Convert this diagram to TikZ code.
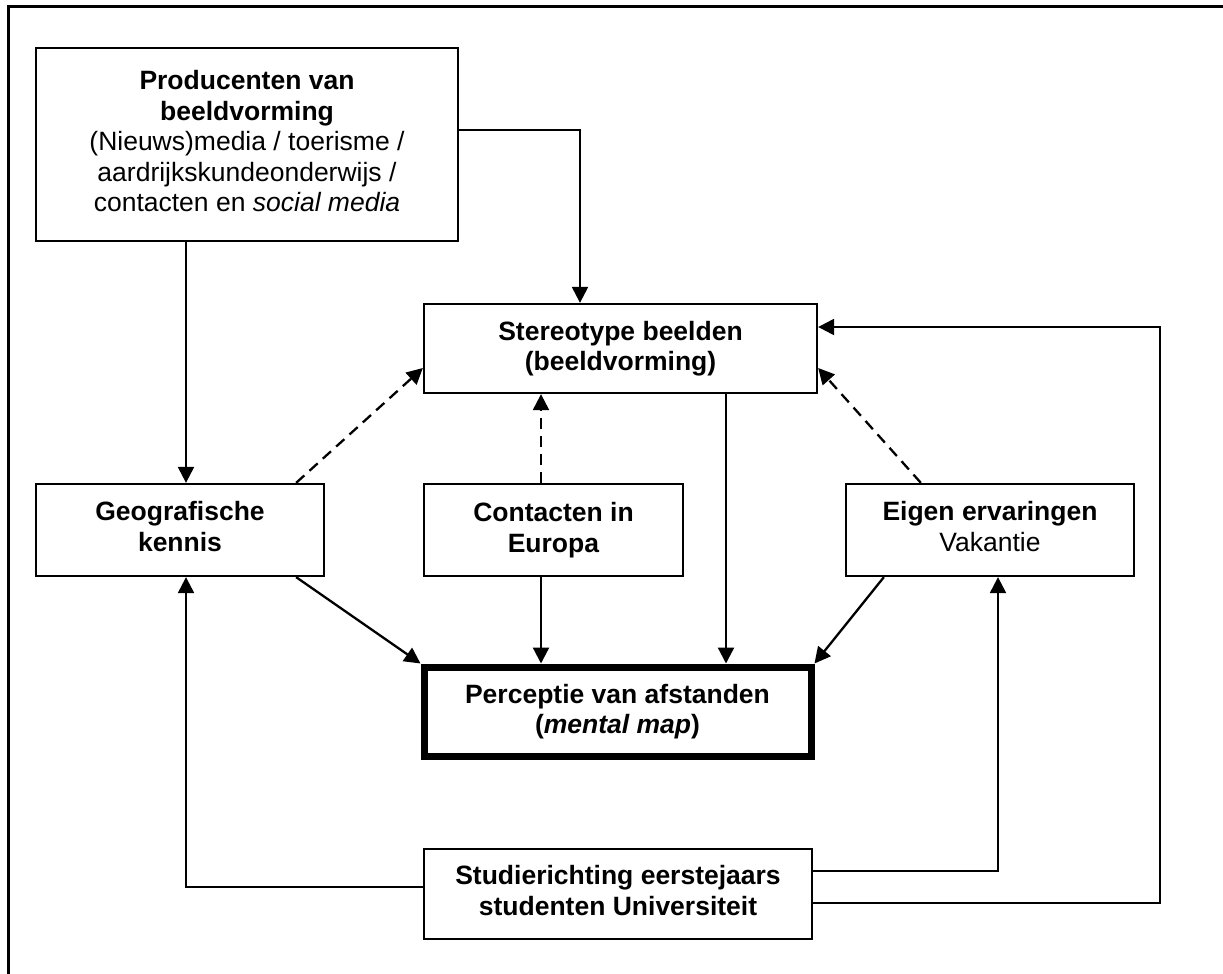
\documentclass[tikz,border=0pt]{standalone}
\usepackage{fontspec}
\setmainfont{Liberation Sans}
\usetikzlibrary{arrows.meta}
\begin{document}
\begin{tikzpicture}[x=1pt,y=-1pt,
  box/.style={draw=black,line width=2.3pt,rectangle,inner sep=0pt,align=center,
    font=\fontsize{26.5}{30.5}\selectfont},
  thickbox/.style={box,line width=7pt},
  arr/.style={line width=2.3pt,-{Triangle[length=16pt,width=16pt]}},
  dashedarr/.style={arr,dash pattern=on 11pt off 7pt}]
\useasboundingbox (0,0) rectangle (1223,974);
% outer frame (partly visible)
\coordinate (ftr) at (1223,7);
\coordinate (ftl) at (8,7);
\coordinate (fbl) at (8,974);
\draw[line width=3pt] (ftr) -- (ftl) -- (fbl);

\node[box,minimum width=422pt,minimum height=193pt] (prod) at (247,144.5)
  {\raisebox{11pt}{\begin{tabular}{@{}c@{}}\textbf{Producenten van}\\\textbf{beeldvorming}\\(Nieuws)media / toerisme /\\aardrijkskundeonderwijs /\\contacten en \textit{social media}\end{tabular}}};
\node[box,minimum width=393pt,minimum height=89pt] (stereo) at (620.5,348.5)
  {\textbf{Stereotype beelden}\\\textbf{(beeldvorming)}};
\node[box,minimum width=288pt,minimum height=92pt] (geo) at (180,530)
  {\raisebox{3pt}{\begin{tabular}{@{}c@{}}\textbf{Geografische}\\\textbf{kennis}\end{tabular}}};
\node[box,minimum width=259pt,minimum height=92pt] (cont) at (553.5,530)
  {\textbf{Contacten in}\\\textbf{Europa}};
\node[box,minimum width=288pt,minimum height=92pt] (eigen) at (990,530)
  {\raisebox{3pt}{\begin{tabular}{@{}c@{}}\textbf{Eigen ervaringen}\\Vakantie\end{tabular}}};
\node[thickbox,minimum width=387pt,minimum height=89pt] (perc) at (617.5,711.5)
  {\textbf{Perceptie van afstanden}\\\textbf{(\textit{mental map})}};
\node[box,minimum width=388pt,minimum height=90pt] (stud) at (618,894)
  {\raisebox{4pt}{\begin{tabular}{@{}c@{}}\textbf{Studierichting eerstejaars}\\\textbf{studenten Universiteit}\end{tabular}}};

% connectors
\draw[arr] ([yshift=14.5pt]prod.east) -| ([xshift=-40.5pt]stereo.north);
\draw[arr] ([xshift=-61pt]prod.south) -- ([xshift=-61pt]prod.south |- geo.north);
\draw[dashedarr] ([xshift=-29pt]geo.north east) -- ([yshift=-19.5pt]stereo.west);
\draw[dashedarr] ([xshift=-12.5pt]cont.north) -- ([xshift=-12.5pt]cont.north |- stereo.south);
\draw[dashedarr] ([xshift=76pt]eigen.north west) -- ([yshift=-19.5pt]stereo.east);
\draw[arr] ([xshift=-29pt]geo.south east) -- (perc.north west);
\draw[arr] ([xshift=-12.5pt]cont.south) -- ([xshift=-12.5pt]cont.south |- perc.north);
\draw[arr] ([xshift=105.5pt]stereo.south) -- ([xshift=105.5pt]stereo.south |- perc.north);
\draw[arr] ([xshift=39pt]eigen.south west) -- (perc.north east);
\draw[arr] ([yshift=7pt]stud.west) -| ([xshift=6pt]geo.south);
\draw[arr] ([yshift=23pt]stud.east) -| ([xshift=8pt]eigen.south);
\coordinate (rc) at (1160,327);
\draw[arr] ([yshift=-9pt]stud.east) -| (rc) -- ([yshift=21.5pt]stereo.east);
\end{tikzpicture}
\end{document}
